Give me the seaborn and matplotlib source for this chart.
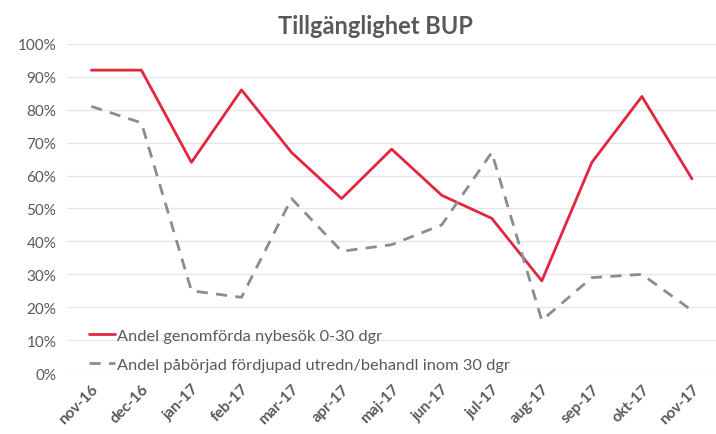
import numpy as np
import pandas as pd
import seaborn as sns
import matplotlib.pyplot as plt
import matplotlib.ticker as plticker

months = ['nov-16', 'dec-16', 'jan-17', 'feb-17', 'mar-17', 'apr-17', 'maj-17',
          'jun-17', 'jul-17', 'aug-17', 'sep-17', 'okt-17', 'nov-17']
nybesok = [92, 92, 64, 86, 67, 53, 68, 54, 47, 28, 64, 84, 59]
utredn = [81, 76, 25, 23, 53, 37, 39, 45, 67, 16, 29, 30, 19]
label_nybesok = 'Andel genomförda nybesök 0-30 dgr'
label_utredn = 'Andel påbörjad fördjupad utredn/behandl inom 30 dgr'

df = pd.DataFrame({
    'Månad': months * 2,
    'Andel': nybesok + utredn,
    'Serie': [label_nybesok] * len(months) + [label_utredn] * len(months),
})
df['pos'] = list(range(len(months))) * 2

sns.set_style('white')
plt.rcParams['font.family'] = ['Lato', 'DejaVu Sans']
text_grey = '#595959'

fig = plt.figure(figsize=(7.16, 4.35), dpi=100)
ax = fig.add_axes([0.094, 0.14, 0.906, 0.757])

sns.lineplot(data=df, x='pos', y='Andel', hue='Serie', style='Serie',
             palette={label_nybesok: '#e2263f', label_utredn: '#8c8c8c'},
             dashes={label_nybesok: '', label_utredn: (4, 3)},
             linewidth=2, ax=ax)

ax.set_xlim(-0.48, len(months) - 0.52)
ax.set_ylim(0, 100)
ax.yaxis.set_major_locator(plticker.MultipleLocator(10))
ax.yaxis.set_major_formatter(plticker.FuncFormatter(lambda v, p: f'{int(v)}%'))
ax.set_xticks(range(len(months)))
ax.set_xticklabels(months, rotation=45, ha='right', rotation_mode='anchor',
                   fontsize=11, color=text_grey, fontweight='bold')
ax.tick_params(axis='y', labelsize=11, labelcolor=text_grey, length=0, pad=8)
ax.tick_params(axis='x', length=0, pad=6)
ax.grid(True, axis='y', color='#e6e6e6', linewidth=1)
ax.set_axisbelow(True)
for s in ax.spines.values():
    s.set_visible(False)
ax.set(xlabel='', ylabel='')

leg = ax.legend(loc='lower left', bbox_to_anchor=(0.01, -0.04), frameon=False,
                fontsize=11.8, handlelength=1.6, handletextpad=0.15, labelspacing=0.85)
for t in leg.get_texts():
    t.set_color(text_grey)

fig.text(0.525, 0.94, 'Tillgänglighet BUP', ha='center', va='center',
         fontsize=17, fontweight='bold', color=text_grey)

fig.savefig('out.png', dpi=100)
